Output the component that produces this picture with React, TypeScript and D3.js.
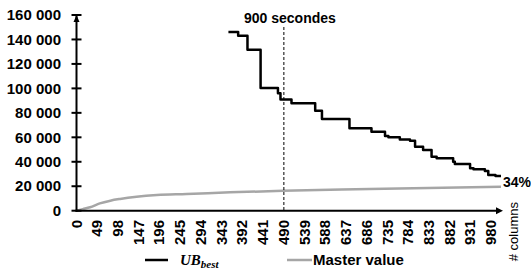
import * as d3 from 'd3';

// x = number of columns, y = objective value
const ubColumns = [359, 382, 404, 435, 476, 482, 508, 564, 580, 645, 697, 729, 737, 764, 788, 800, 819, 839, 851, 890, 894, 930, 938, 965, 973, 990, 1003];
const ubValues = [146000, 143000, 131500, 100300, 96000, 91000, 87800, 81800, 75000, 67400, 64600, 61100, 60000, 58200, 57200, 52300, 49600, 44200, 42800, 40100, 38200, 34700, 33900, 32500, 29200, 28400, 28400];

const masterColumns = [0, 15, 32, 55, 80, 103, 142, 190, 260, 363, 488, 693, 1003];
const masterValues = [0, 1300, 2800, 6000, 8200, 9600, 11400, 12800, 13600, 15000, 16300, 17700, 19600];

const yTicks = [0, 20000, 40000, 60000, 80000, 100000, 120000, 140000, 160000];
const xTicks = [0, 49, 98, 147, 196, 245, 294, 343, 392, 441, 490, 539, 588, 637, 686, 735, 784, 833, 882, 931, 980];
const markerColumn = 490;

const width = 531;
const height = 269;
const font = '"Liberation Sans", Arial, sans-serif';

function fmt(v: number) {
  return d3.format(',')(v).replace(/,/g, ' ');
}

function App() {
  const x = d3.scaleLinear().domain([0, 1000]).range([76.5, 499.7]);
  const y = d3.scaleLinear().domain([0, 160000]).range([210.7, 15]);

  const ub = ubColumns.map((c, i) => [c, ubValues[i]] as [number, number]);
  const master = masterColumns.map((c, i) => [c, masterValues[i]] as [number, number]);

  const ubLine = d3
    .line<[number, number]>()
    .x((d) => x(d[0]))
    .y((d) => y(d[1]))
    .curve(d3.curveStepAfter);

  const masterLine = d3
    .line<[number, number]>()
    .x((d) => x(d[0]))
    .y((d) => y(d[1]))
    .curve(d3.curveMonotoneX);

  const x0 = x(0);
  const y0 = y(0);
  const last = ub[ub.length - 1];

  return (
    <svg
      width={width}
      height={height}
      style={{ position: 'absolute', left: 0, top: 0, background: '#fff' }}
      fontFamily={font}
    >
      {/* master value */}
      <path d={masterLine(master) ?? ''} fill="none" stroke="#a6a6a6" strokeWidth={2.5} />
      {/* best upper bound */}
      <path d={ubLine(ub) ?? ''} fill="none" stroke="#000" strokeWidth={2.5} strokeLinejoin="round" />

      {/* 900 seconds marker */}
      <line x1={x(markerColumn)} x2={x(markerColumn)} y1={27} y2={y0} stroke="#000" strokeWidth={1} strokeDasharray="3,2" />
      <text x={244} y={23} fontSize={14} fontWeight="bold">900 secondes</text>

      {/* y axis */}
      <line x1={x0} x2={x0} y1={y0 + 1} y2={14} stroke="#000" strokeWidth={2} />
      <path d={`M${x0 - 3},${22} L${x0},${15} L${x0 + 3},${22} Z`} fill="#000" />
      {yTicks.map((t) => (
        <g key={t}>
          <line x1={x0 - 5} x2={x0 + 5} y1={y(t)} y2={y(t)} stroke="#000" strokeWidth={2} />
          <text x={61} y={y(t)} dy="0.35em" textAnchor="end" fontSize={15} fontWeight="bold">
            {fmt(t)}
          </text>
        </g>
      ))}

      {/* x axis */}
      <line x1={x0 - 1} x2={497} y1={y0} y2={y0} stroke="#000" strokeWidth={2} />
      <path d={`M${496},${y0 - 3.5} L${503},${y0} L${496},${y0 + 3.5} Z`} fill="#000" />
      {xTicks.map((t) => (
        <text
          key={t}
          transform={`translate(${x(t) + 5},220) rotate(-90)`}
          textAnchor="end"
          fontSize={15}
          fontWeight="bold"
        >
          {t}
        </text>
      ))}
      <text transform="translate(518,202) rotate(-90)" textAnchor="end" fontSize={13}>
        # columns
      </text>

      <text x={x(last[0]) + 2} y={y(last[1]) + 11} fontSize={14} fontWeight="bold">34%</text>

      {/* legend */}
      <line x1={145} x2={168} y1={260} y2={260} stroke="#000" strokeWidth={2.5} />
      <text x={180} y={265} fontSize={15} fontWeight="bold" fontStyle="italic" fontFamily='"Liberation Serif", serif'>
        UB
        <tspan fontSize={11} dy={3}>best</tspan>
      </text>
      <line x1={287} x2={312} y1={260} y2={260} stroke="#a6a6a6" strokeWidth={2.5} />
      <text x={313} y={265} fontSize={15} fontWeight="bold">Master value</text>
    </svg>
  );
}

export default App;
